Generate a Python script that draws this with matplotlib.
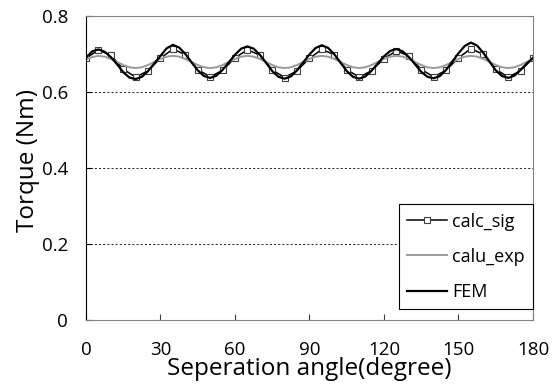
import matplotlib
matplotlib.use("Agg")
import matplotlib.pyplot as plt

plt.rcParams['font.family'] = ['Open Sans', 'DejaVu Sans']

# angle grid (degree)
angle_fine = [i * 2.5 for i in range(73)]
angle_sig = [i * 5 for i in range(37)]

fem = [
    0.690, 0.707, 0.712, 0.706, 0.692, 0.673, 0.652, 0.638, 0.634, 0.640, 0.655, 0.675,
    0.695, 0.715, 0.724, 0.717, 0.700, 0.678, 0.657, 0.642, 0.637, 0.643, 0.658, 0.678,
    0.698, 0.714, 0.720, 0.714, 0.698, 0.677, 0.655, 0.640, 0.635, 0.641, 0.657, 0.678,
    0.699, 0.716, 0.723, 0.716, 0.699, 0.677, 0.655, 0.640, 0.635, 0.641, 0.656, 0.675,
    0.694, 0.708, 0.713, 0.707, 0.692, 0.673, 0.653, 0.640, 0.636, 0.642, 0.658, 0.680,
    0.702, 0.721, 0.730, 0.722, 0.703, 0.680, 0.657, 0.642, 0.637, 0.643, 0.658, 0.675,
    0.690,
]

calu_exp = [
    0.686, 0.692, 0.695, 0.693, 0.687, 0.679, 0.671, 0.665, 0.663, 0.665, 0.671, 0.679,
    0.687, 0.693, 0.695, 0.693, 0.687, 0.679, 0.671, 0.665, 0.663, 0.665, 0.671, 0.679,
    0.687, 0.693, 0.695, 0.693, 0.687, 0.679, 0.671, 0.665, 0.663, 0.665, 0.671, 0.679,
    0.687, 0.693, 0.695, 0.693, 0.687, 0.679, 0.671, 0.665, 0.663, 0.665, 0.671, 0.679,
    0.687, 0.693, 0.695, 0.693, 0.687, 0.679, 0.671, 0.665, 0.663, 0.665, 0.671, 0.679,
    0.687, 0.693, 0.695, 0.693, 0.687, 0.679, 0.671, 0.665, 0.663, 0.665, 0.671, 0.679,
    0.686,
]

calc_sig = [
    0.689, 0.710, 0.697, 0.660, 0.639, 0.656,
    0.689, 0.713, 0.698, 0.659, 0.640, 0.657,
    0.690, 0.711, 0.697, 0.658, 0.638, 0.656,
    0.689, 0.712, 0.698, 0.659, 0.639, 0.656,
    0.688, 0.708, 0.695, 0.659, 0.640, 0.657,
    0.690, 0.714, 0.699, 0.660, 0.639, 0.656,
    0.689,
]

x_ticks = [0, 30, 60, 90, 120, 150, 180]
y_ticks = [0, 0.2, 0.4, 0.6, 0.8]
y_tick_labels = ["0", "0.2", "0.4", "0.6", "0.8"]

fig = plt.figure(figsize=(5.58, 3.88), dpi=100)
ax = fig.add_axes([0.1541, 0.1753, 0.8011, 0.7835])

ax.plot(angle_sig, calc_sig, label='calc_sig', color='black', linewidth=1.1,
        marker='s', markersize=3.8, markerfacecolor='white', markeredgecolor='#404040',
        markeredgewidth=0.8)
ax.plot(angle_fine, calu_exp, label='calu_exp', color='#9a9a9a', linewidth=1.4)
ax.plot(angle_fine, fem, label='FEM', color='black', linewidth=1.6)

ax.set_xlim(0, 180)
ax.set_ylim(0, 0.8)
ax.set_xticks(x_ticks)
ax.set_yticks(y_ticks)
ax.set_yticklabels(y_tick_labels)

for y in [0.2, 0.4, 0.6]:
    ax.axhline(y, color='black', linestyle=(0, (2.5, 2.5)), linewidth=0.6, zorder=0)

for side in ['top', 'right', 'bottom']:
    ax.spines[side].set_color('#808080')
    ax.spines[side].set_linewidth(0.8)
ax.spines['left'].set_color('black')
ax.spines['left'].set_linewidth(0.8)

ax.tick_params(axis='x', direction='in', length=4, width=0.8, pad=15, labelsize=13.5,
               color='#404040')
ax.tick_params(axis='y', direction='in', length=4, width=0.8, pad=13, labelsize=13.5)

ax.set_xlabel("Seperation angle(degree)", fontsize=17.5)
ax.xaxis.set_label_coords(0.5, -0.122)
ax.set_ylabel("Torque (Nm)", fontsize=17.5)
ax.yaxis.set_label_coords(-0.103, 0.526)

leg = ax.legend(loc='lower right', bbox_to_anchor=(0.9552, 0.2036),
                bbox_transform=fig.transFigure, fontsize=13, frameon=True,
                fancybox=False, edgecolor='black', framealpha=1,
                labelspacing=0.95, handlelength=2.2, handletextpad=0.3,
                borderaxespad=0, borderpad=0.45)
leg.get_frame().set_linewidth(0.8)

fig.savefig("out.png", dpi=100)
